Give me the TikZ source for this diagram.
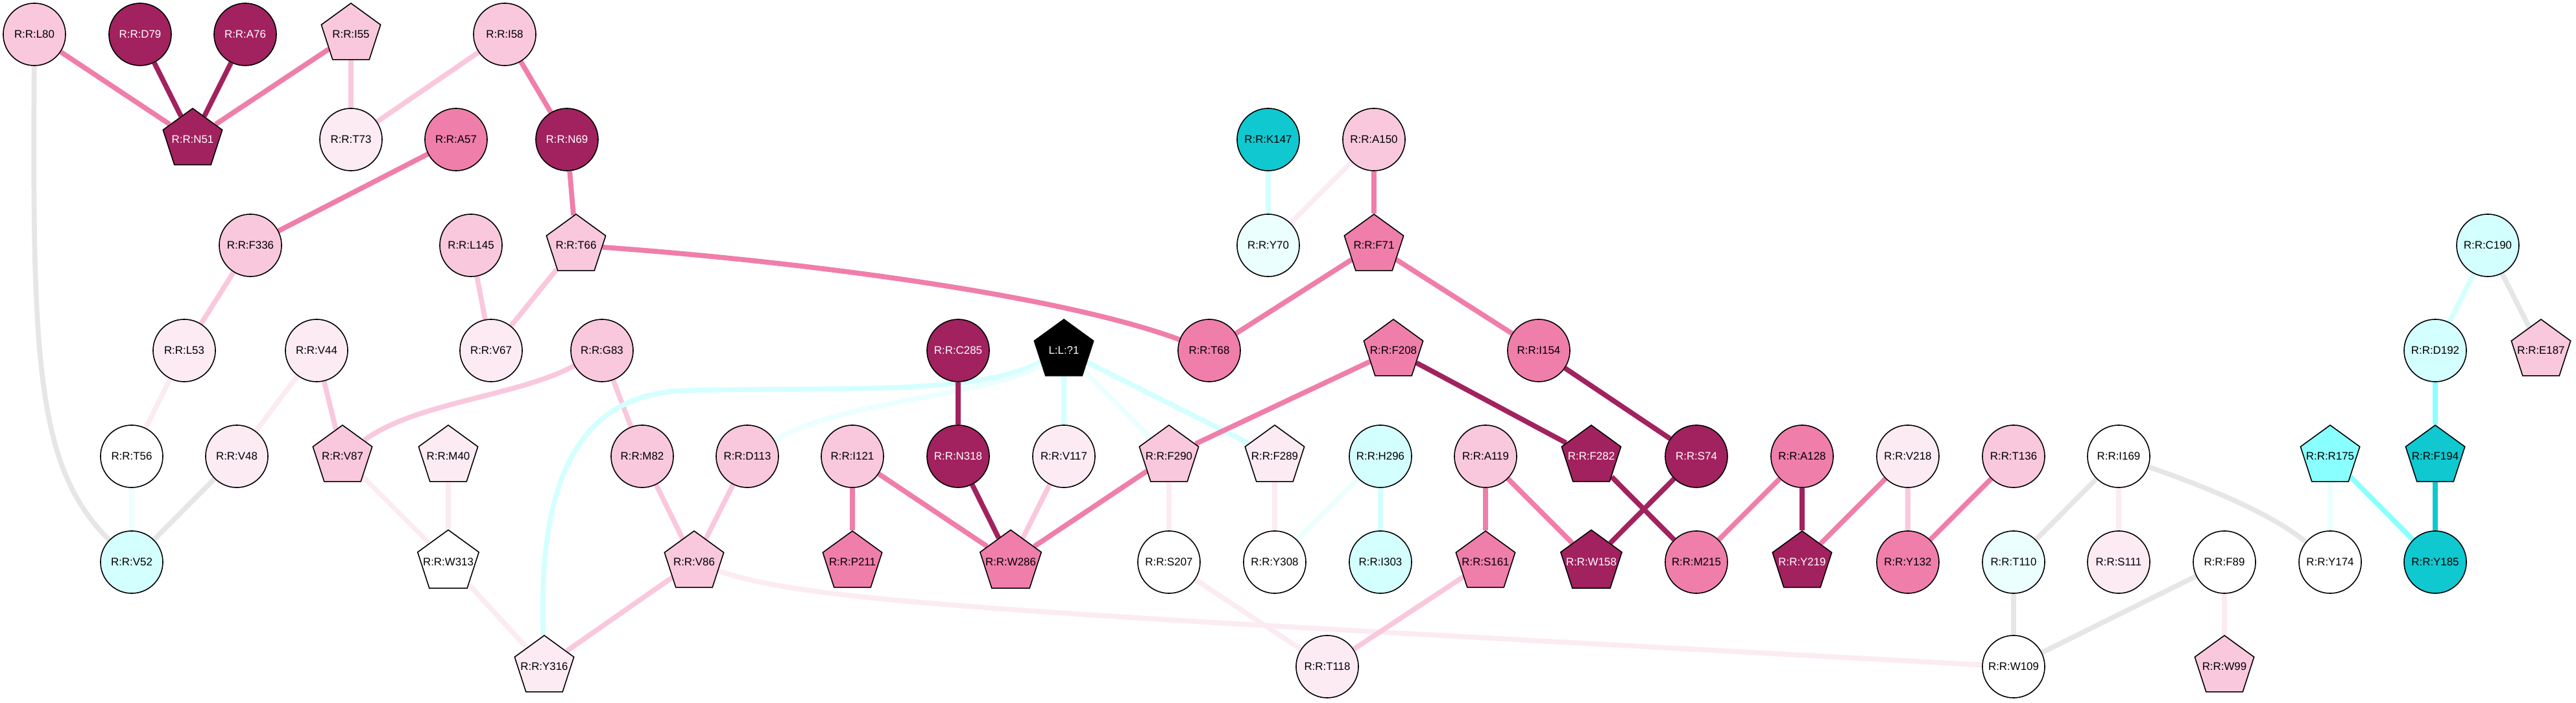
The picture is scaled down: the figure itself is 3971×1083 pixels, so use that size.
\documentclass[tikz,border=0pt]{standalone}
\usepackage{fontspec}
\setmainfont{Liberation Sans}
\usetikzlibrary{shapes.geometric,backgrounds}
\definecolor{cdk}{HTML}{A1225E}
\definecolor{cmd}{HTML}{F07EAA}
\definecolor{clt}{HTML}{F9C8DD}
\definecolor{cvl}{HTML}{FCEBF3}
\definecolor{cgr}{HTML}{E6E6E6}
\definecolor{ccl}{HTML}{D4FFFF}
\definecolor{ccv}{HTML}{EBFFFF}
\definecolor{ccm}{HTML}{8AFFFF}
\definecolor{ccd}{HTML}{10C8D0}
\tikzset{
  resbase/.style={draw=black,line width=0.45pt,inner sep=0pt,font=\fontsize{4.8}{5.5}\selectfont},
  rc/.style={resbase,circle,minimum size=0.96cm},
  rp/.style={resbase,regular polygon,regular polygon sides=5,minimum size=0.96cm,inner xsep=-3pt},
  fdk/.style={fill=cdk,text=white},
  fmd/.style={fill=cmd},
  flt/.style={fill=clt},
  fvl/.style={fill=cvl},
  fwh/.style={fill=white},
  fcl/.style={fill=ccl},
  fcv/.style={fill=ccv},
  fcm/.style={fill=ccm},
  fcd/.style={fill=ccd},
  fbk/.style={fill=black,text=white},
  lk/.style={line width=2.2pt},
  ldk/.style={lk,draw=cdk},
  lmd/.style={lk,draw=cmd},
  llt/.style={lk,draw=clt},
  lvl/.style={lk,draw=cvl},
  lgr/.style={lk,draw=cgr},
  lcl/.style={lk,draw=ccl},
  lcv/.style={lk,draw=ccv},
  lcm/.style={lk,draw=ccm},
  lcd/.style={lk,draw=ccd}
}
\begin{document}
\begin{tikzpicture}[x=0.01cm,y=-0.01cm]
\useasboundingbox (0,0) rectangle (3971,1083);
% row 1
\node[rc,flt] (l80) at (53,53) {R:R:L80};
\node[rc,fdk] (d79) at (216,53) {R:R:D79};
\node[rc,fdk] (a76) at (378,53) {R:R:A76};
\node[rp,flt] (i55) at (541,53) {R:R:I55};
\node[rc,flt] (i58) at (778,53) {R:R:I58};
% row 2
\node[rp,fdk] (n51) at (297,215) {R:R:N51};
\node[rc,fvl] (t73) at (541,215) {R:R:T73};
\node[rc,fmd] (a57) at (703,215) {R:R:A57};
\node[rc,fdk] (n69) at (874,215) {R:R:N69};
\node[rc,fcd] (k147) at (1955,215) {R:R:K147};
\node[rc,flt] (a150) at (2118,215) {R:R:A150};
% row 3
\node[rc,flt] (f336) at (386,378) {R:R:F336};
\node[rc,flt] (l145) at (726,378) {R:R:L145};
\node[rp,flt] (t66) at (888,378) {R:R:T66};
\node[rc,fcv] (y70) at (1955,378) {R:R:Y70};
\node[rp,fmd] (f71) at (2118,378) {R:R:F71};
\node[rc,fcl] (c190) at (3835,378) {R:R:C190};
% row 4
\node[rc,fvl] (l53) at (284,540) {R:R:L53};
\node[rc,fvl] (v44) at (488,540) {R:R:V44};
\node[rc,fvl] (v67) at (757,540) {R:R:V67};
\node[rc,flt] (g83) at (928,540) {R:R:G83};
\node[rc,fdk] (c285) at (1477,540) {R:R:C285};
\node[rp,fbk] (ll) at (1640,540) {L:L:?1};
\node[rc,fmd] (t68) at (1864,540) {R:R:T68};
\node[rp,fmd] (f208) at (2148,540) {R:R:F208};
\node[rc,fmd] (i154) at (2372,540) {R:R:I154};
\node[rc,fcl] (d192) at (3754,540) {R:R:D192};
\node[rp,flt] (e187) at (3917,540) {R:R:E187};
% row 5
\node[rc,fwh] (t56) at (203,703) {R:R:T56};
\node[rc,fvl] (v48) at (365,703) {R:R:V48};
\node[rp,flt] (v87) at (528,703) {R:R:V87};
\node[rp,fvl] (m40) at (691,703) {R:R:M40};
\node[rc,flt] (m82) at (990,703) {R:R:M82};
\node[rc,flt] (d113) at (1152,703) {R:R:D113};
\node[rc,flt] (i121) at (1314,703) {R:R:I121};
\node[rc,fdk] (n318) at (1477,703) {R:R:N318};
\node[rc,fvl] (v117) at (1640,703) {R:R:V117};
\node[rp,flt] (f290) at (1802,703) {R:R:F290};
\node[rp,fvl] (f289) at (1965,703) {R:R:F289};
\node[rc,fcl] (h296) at (2128,703) {R:R:H296};
\node[rc,flt] (a119) at (2290,703) {R:R:A119};
\node[rp,fdk] (f282) at (2453,703) {R:R:F282};
\node[rc,fdk] (s74) at (2615,703) {R:R:S74};
\node[rc,fmd] (a128) at (2778,703) {R:R:A128};
\node[rc,fvl] (v218) at (2941,703) {R:R:V218};
\node[rc,flt] (t136) at (3104,703) {R:R:T136};
\node[rc,fwh] (i169) at (3266,703) {R:R:I169};
\node[rp,fcm] (r175) at (3592,703) {R:R:R175};
\node[rp,fcd] (f194) at (3754,703) {R:R:F194};
% row 6
\node[rc,fcl] (v52) at (203,866) {R:R:V52};
\node[rp,fwh] (w313) at (691,866) {R:R:W313};
\node[rp,flt] (v86) at (1070,866) {R:R:V86};
\node[rp,fmd] (p211) at (1314,866) {R:R:P211};
\node[rp,fmd] (w286) at (1558,866) {R:R:W286};
\node[rc,fwh] (s207) at (1802,866) {R:R:S207};
\node[rc,fwh] (y308) at (1965,866) {R:R:Y308};
\node[rc,fcl] (i303) at (2128,866) {R:R:I303};
\node[rp,fmd] (s161) at (2290,866) {R:R:S161};
\node[rp,fdk] (w158) at (2453,866) {R:R:W158};
\node[rc,fmd] (m215) at (2615,866) {R:R:M215};
\node[rp,fdk] (y219) at (2778,866) {R:R:Y219};
\node[rc,fmd] (y132) at (2941,866) {R:R:Y132};
\node[rc,fcv] (t110) at (3104,866) {R:R:T110};
\node[rc,fvl] (s111) at (3266,866) {R:R:S111};
\node[rc,fwh] (f89) at (3429,866) {R:R:F89};
\node[rc,fwh] (y174) at (3592,866) {R:R:Y174};
\node[rc,fcd] (y185) at (3754,866) {R:R:Y185};
% row 7
\node[rp,fvl] (y316) at (839,1027) {R:R:Y316};
\node[rc,fvl] (t118) at (2046,1027) {R:R:T118};
\node[rc,fwh] (w109) at (3104,1027) {R:R:W109};
\node[rp,flt] (w99) at (3429,1027) {R:R:W99};
% edges
\begin{scope}[on background layer]
\draw[lmd] (l80) -- (n51);
\draw[ldk] (d79) -- (n51);
\draw[ldk] (a76) -- (n51);
\draw[lmd] (i55) -- (n51);
\draw[llt] (i55) -- (t73);
\draw[llt] (i58) -- (t73);
\draw[lmd] (i58) -- (n69);
\draw[lmd] (a57) -- (f336);
\draw[lmd] (n69) -- (t66);
\draw[lmd] (t66) .. controls (1200,400) and (1620,450) .. (t68);
\draw[llt] (t66) -- (v67);
\draw[llt] (l145) -- (v67);
\draw[llt] (f336) -- (l53);
\draw[lgr] (l80) .. controls (50,550) and (55,720) .. (v52);
\draw[lvl] (l53) -- (t56);
\draw[lcv] (t56) -- (v52);
\draw[lgr] (v48) -- (v52);
\draw[lvl] (v44) -- (v48);
\draw[llt] (v44) -- (v87);
\draw[llt] (g83) .. controls (800,610) and (640,620) .. (v87);
\draw[llt] (g83) -- (m82);
\draw[lvl] (v87) -- (w313);
\draw[lvl] (m40) -- (w313);
\draw[lvl] (w313) -- (y316);
\draw[llt] (m82) -- (v86);
\draw[llt] (d113) -- (v86);
\draw[llt] (v86) -- (y316);
\draw[lcl] (ll) .. controls (1500,610) and (1300,595) .. (1050,602) .. controls (880,610) and (830,760) .. (y316);
\draw[lcv] (ll) .. controls (1530,610) and (1300,615) .. (d113);
\draw[ldk] (c285) -- (n318);
\draw[lcl] (ll) -- (v117);
\draw[lcv] (ll) -- (f290);
\draw[lcl] (ll) -- (f289);
\draw[lmd] (i121) -- (p211);
\draw[lmd] (i121) -- (w286);
\draw[ldk] (n318) -- (w286);
\draw[llt] (v117) -- (w286);
\draw[lmd] (f290) -- (w286);
\draw[lmd] (f208) -- (f290);
\draw[lvl] (f290) -- (s207);
\draw[lvl] (f289) -- (y308);
\draw[lvl] (s207) -- (t118);
\draw[lvl] (v86) .. controls (1250,930) and (1600,945) .. (w109);
\draw[lcl] (k147) -- (y70);
\draw[lvl] (a150) -- (y70);
\draw[lmd] (a150) -- (f71);
\draw[lmd] (f71) -- (t68);
\draw[lmd] (f71) -- (i154);
\draw[ldk] (f208) -- (f282);
\draw[ldk] (i154) -- (s74);
\draw[lcl] (h296) -- (i303);
\draw[lcv] (h296) -- (y308);
\draw[lmd] (a119) -- (s161);
\draw[lmd] (a119) -- (w158);
\draw[ldk] (f282) -- (m215);
\draw[ldk] (s74) -- (w158);
\draw[lmd] (a128) -- (m215);
\draw[ldk] (a128) -- (y219);
\draw[lmd] (v218) -- (y219);
\draw[llt] (v218) -- (y132);
\draw[lmd] (t136) -- (y132);
\draw[llt] (s161) -- (t118);
\draw[lgr] (i169) -- (t110);
\draw[lvl] (i169) -- (s111);
\draw[lgr] (i169) .. controls (3400,750) and (3500,790) .. (y174);
\draw[lgr] (t110) -- (w109);
\draw[lgr] (f89) -- (w109);
\draw[lvl] (f89) -- (w99);
\draw[lcv] (r175) -- (y174);
\draw[lcm] (r175) -- (y185);
\draw[lcd] (f194) -- (y185);
\draw[lcm] (d192) -- (f194);
\draw[lcl] (c190) -- (d192);
\draw[lgr] (c190) -- (e187);
\end{scope}
\end{tikzpicture}
\end{document}
